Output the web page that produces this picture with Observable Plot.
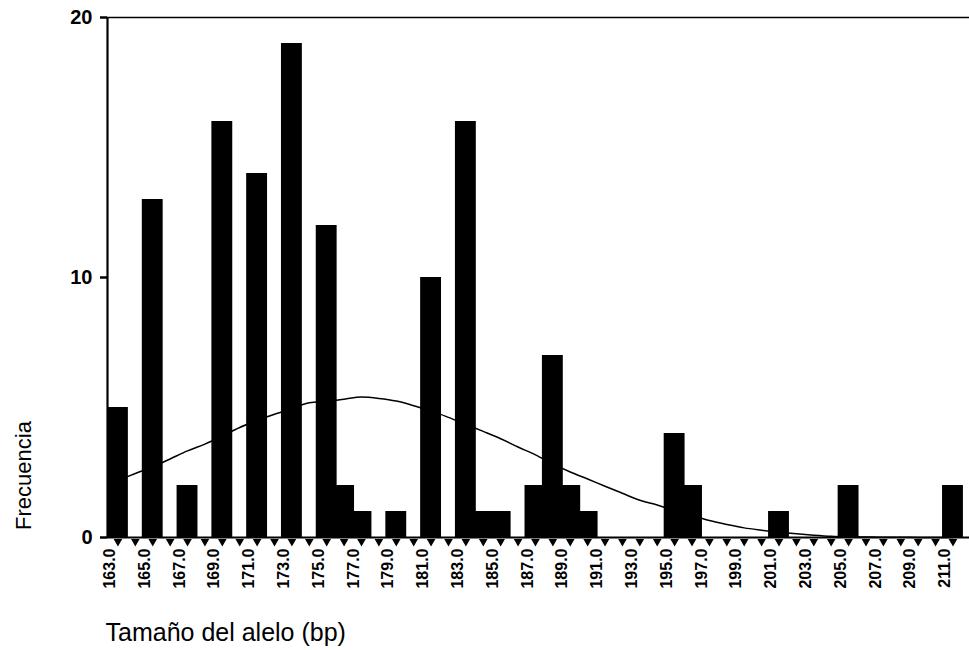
<!DOCTYPE html>
<html>
<head>
<meta charset="utf-8">
<script src="https://cdn.jsdelivr.net/npm/d3@7"></script>
<script src="https://cdn.jsdelivr.net/npm/@observablehq/plot@0.6"></script>
<style>
  html, body { margin: 0; padding: 0; background: #fff; }
  #chart svg { display: block; }
</style>
</head>
<body>
<div id="chart"></div>
<script>
// Allele sizes (bp) and their observed counts
const alleleSize = [163, 165, 167, 169, 171, 173, 175, 176, 177, 179, 181, 183, 184, 185, 187, 188, 189, 190, 195, 196, 201, 205, 211];
const frequency  = [5, 13, 2, 16, 14, 19, 12, 2, 1, 1, 10, 16, 1, 1, 2, 7, 2, 1, 4, 2, 1, 2, 2];

// Fitted normal curve, sampled at each bp
const curveSize  = [163, 164, 165, 166, 167, 168, 169, 170, 171, 172, 173, 174, 175, 176, 177, 178, 179, 180, 181, 182, 183, 184, 185, 186, 187, 188, 189, 190, 191, 192, 193, 194, 195, 196, 197, 198, 199, 200, 201, 202, 203, 204, 205, 206, 207, 208, 209, 210, 211];
const curveValue = [2.2, 2.46, 2.72, 3.02, 3.33, 3.59, 3.9, 4.23, 4.5, 4.74, 4.96, 5.18, 5.24, 5.32, 5.4, 5.35, 5.25, 5.07, 4.87, 4.62, 4.35, 4.08, 3.8, 3.48, 3.18, 2.83, 2.52, 2.25, 1.97, 1.7, 1.43, 1.25, 1.03, 0.84, 0.65, 0.5, 0.37, 0.28, 0.2, 0.14, 0.09, 0.05, 0.03, 0.02, 0.01, 0.01, 0, 0, 0];

// Axis ticks and their labels
const xLabelValues = [163, 165, 167, 169, 171, 173, 175, 177, 179, 181, 183, 185, 187, 189, 191, 193, 195, 197, 199, 201, 203, 205, 207, 209, 211];
const xLabelText   = ["163.0", "165.0", "167.0", "169.0", "171.0", "173.0", "175.0", "177.0", "179.0", "181.0", "183.0", "185.0", "187.0", "189.0", "191.0", "193.0", "195.0", "197.0", "199.0", "201.0", "203.0", "205.0", "207.0", "209.0", "211.0"];
const xTickMarks   = curveSize;
const yTickValues  = [0, 10, 20];

const xTitle = "Tamaño del alelo (bp)";
const yTitle = "Frecuencia";

const bars  = alleleSize.map((s, i) => ({size: s, count: frequency[i]}));
const curve = curveSize.map((s, i) => ({size: s, value: curveValue[i]}));

const halfBar = 0.6;        // bars are slightly wider than one bp
const xMin = 162.4, xMax = 211.95;
const font = "'Liberation Sans', Arial, Helvetica, sans-serif";

const chart = Plot.plot({
  width: 969,
  height: 650,
  marginTop: 17,
  marginBottom: 113,
  marginLeft: 107,
  marginRight: 0,
  style: {fontFamily: font, background: "#fff", color: "#000"},
  x: {domain: [xMin, xMax], axis: null},
  y: {domain: [0, 20]},
  marks: [
    // fitted curve sits behind the bars
    Plot.line(curve, {x: "size", y: "value", stroke: "#000", strokeWidth: 1.5, curve: "monotone-x"}),
    Plot.rectY(bars, {x1: d => d.size - halfBar, x2: d => d.size + halfBar, y: "count", fill: "#000"}),
    // frame lines
    Plot.ruleY([20], {stroke: "#000", strokeWidth: 1.6}),
    Plot.ruleY([0], {stroke: "#000", strokeWidth: 2.2}),
    Plot.ruleX([xMin], {stroke: "#000", strokeWidth: 2.2}),
    // y axis
    Plot.axisY({ticks: yTickValues, tickSize: 7, tickPadding: 8, tickFormat: d => String(d),
      fontSize: 20, fontWeight: "bold", strokeWidth: 2.5, label: null}),
    // triangular tick marks under every bp
    Plot.dot(xTickMarks, {x: d => d, y: 0, symbol: "triangle", rotate: 180, r: 3.2, fill: "#000", stroke: null, dy: 4}),
    // rotated tick labels every 2 bp
    Plot.text(xLabelValues, {x: d => d, y: 0, text: (d, i) => xLabelText[i], rotate: -90,
      textAnchor: "end", lineAnchor: "middle", dy: 11, dx: -8, fontSize: 16, fontWeight: "bold", fill: "#000"}),
    // axis titles
    Plot.text([yTitle], {frameAnchor: "bottom-left", text: d => d, rotate: -90, textAnchor: "middle",
      lineAnchor: "middle", dx: -84, dy: -62, fontSize: 22, fill: "#000"}),
    Plot.text([xTitle], {frameAnchor: "bottom-left", text: d => d, textAnchor: "start",
      lineAnchor: "bottom", dx: -2, dy: 103, fontSize: 25, fill: "#000"})
  ]
});

document.getElementById("chart").appendChild(chart);
</script>
</body>
</html>
